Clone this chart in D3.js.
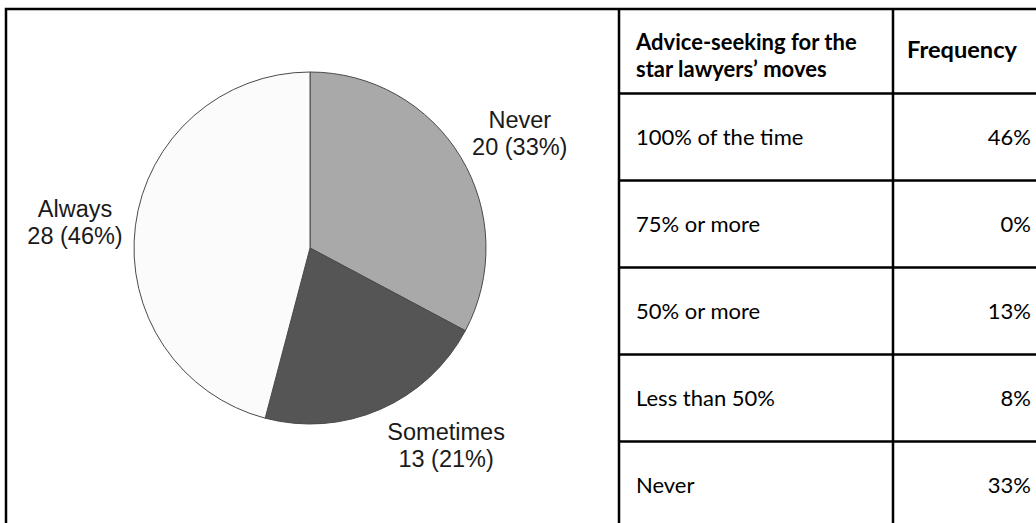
<!DOCTYPE html>
<html>
<head>
<meta charset="utf-8">
<script src="https://cdn.jsdelivr.net/npm/d3@7"></script>
<style>
  html, body { margin: 0; padding: 0; background: #ffffff; }
  svg { display: block; }
</style>
</head>
<body>
<svg id="chart" width="1036" height="523"></svg>
<script>
// ---- data ----
const pieCategories = ["Never", "Sometimes", "Always"];
const pieCounts = [20, 13, 28];
const piePercents = [33, 21, 46];
const tableHeader = [["Advice-seeking for the", "star lawyers\u2019 moves"], ["Frequency"]];
const tableCategories = ["100% of the time", "75% or more", "50% or more", "Less than 50%", "Never"];
const tableFrequency = [46, 0, 13, 8, 33];

// ---- layout ----
const W = 1036, H = 523;
const svg = d3.select("#chart");
const frame = { left: 6, top: 9, split: 619, mid: 893, right: 1040, bottom: 532 };
const pieCenter = { x: 310, y: 248 };
const radius = 176;

const colors = d3.scaleOrdinal().domain(pieCategories).range(["#a9a9a9", "#555555", "#fbfbfb"]);

// ---- pie ----
const pie = d3.pie().sort(null).value(d => d.count);
const pieData = pie(pieCategories.map((c, i) => ({ name: c, count: pieCounts[i], pct: piePercents[i] })));
const arc = d3.arc().innerRadius(0).outerRadius(radius);
const labelArc = d3.arc().innerRadius(240).outerRadius(240);

const g = svg.append("g").attr("transform", `translate(${pieCenter.x},${pieCenter.y})`);
g.selectAll("path.slice")
  .data(pieData)
  .join("path")
  .attr("class", "slice")
  .attr("d", arc)
  .attr("fill", d => colors(d.data.name))
  .attr("stroke", "#4a4a4a")
  .attr("stroke-width", 1);

// label nudges (style/layout)
const labelNudge = { "Never": [4, 8], "Sometimes": [40, -24], "Always": [3, 4] };
const labels = g.selectAll("text.lbl")
  .data(pieData)
  .join("text")
  .attr("class", "lbl")
  .attr("text-anchor", "middle")
  .attr("font-family", "'Liberation Sans', Arial, sans-serif")
  .attr("font-size", "23.5px")
  .attr("fill", "#1a1a1a")
  .attr("transform", d => {
    const c = labelArc.centroid(d);
    const n = labelNudge[d.data.name];
    return `translate(${c[0] + n[0]},${c[1] + n[1]})`;
  });
labels.append("tspan").attr("x", 0).attr("y", -4).text(d => d.data.name);
labels.append("tspan").attr("x", 0).attr("y", 23).text(d => `${d.data.count} (${d.data.pct}%)`);

// ---- table ----
const headerBottom = 93.5;
const rowH = 87;
const y = d3.scaleBand().domain(tableCategories).range([headerBottom, headerBottom + rowH * tableCategories.length]).paddingInner(0).paddingOuter(0);

const lines = svg.append("g").attr("stroke", "#000").attr("stroke-width", 2.5).attr("fill", "none");
// outer frame
lines.append("rect")
  .attr("x", frame.left).attr("y", frame.top)
  .attr("width", frame.right - frame.left).attr("height", frame.bottom - frame.top);
// vertical lines
[frame.split, frame.mid].forEach(x => {
  lines.append("line").attr("x1", x).attr("x2", x).attr("y1", frame.top).attr("y2", frame.bottom);
});
// horizontal row lines
lines.selectAll("line.row")
  .data(tableCategories)
  .join("line")
  .attr("class", "row")
  .attr("x1", frame.split).attr("x2", frame.right)
  .attr("y1", d => y(d)).attr("y2", d => y(d));

const tableFont = "Lato, 'Open Sans', sans-serif";
// header
tableHeader[0].forEach((t, i) => {
  svg.append("text")
    .attr("font-family", tableFont).attr("font-weight", "bold").attr("font-size", "22px")
    .attr("fill", "#000")
    .attr("x", 636).attr("y", 50 + i * 27).text(t);
});
svg.append("text")
  .attr("font-family", tableFont).attr("font-weight", "bold").attr("font-size", "22px")
  .attr("fill", "#000")
  .attr("x", 907).attr("y", 58)
  .attr("textLength", 110).attr("lengthAdjust", "spacingAndGlyphs")
  .text(tableHeader[1][0]);

// body
svg.selectAll("text.cat")
  .data(tableCategories)
  .join("text")
  .attr("class", "cat")
  .attr("font-family", tableFont).attr("font-size", "22px").attr("fill", "#000")
  .attr("x", 636)
  .attr("y", d => y(d) + y.bandwidth() / 2 + 8)
  .text(d => d);

svg.selectAll("text.freq")
  .data(tableFrequency)
  .join("text")
  .attr("class", "freq")
  .attr("font-family", tableFont).attr("font-size", "22px").attr("fill", "#000")
  .attr("text-anchor", "end")
  .attr("x", 1031)
  .attr("y", (d, i) => y(tableCategories[i]) + y.bandwidth() / 2 + 8)
  .text(d => `${d}%`);
</script>
</body>
</html>
